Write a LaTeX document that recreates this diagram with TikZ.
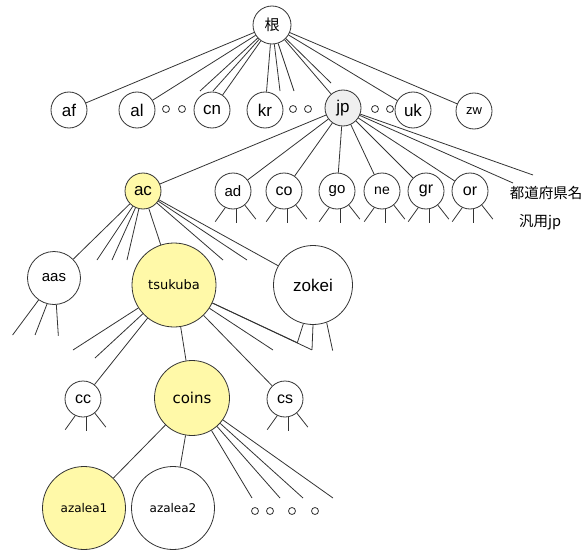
\documentclass[tikz,border=0pt]{standalone}
\usepackage{fontspec}
\setmainfont{Liberation Sans}
\newfontfamily\jpfont{Noto Sans CJK JP}
\newfontfamily\vfont{DejaVu Sans}
\definecolor{hlyellow}{HTML}{FFF9A8}
\definecolor{jpgray}{HTML}{EFEFEF}
\newcommand{\fs}[1]{\fontsize{#1}{#1}\selectfont}
% three short tails under a node
\newcommand{\tails}[1]{%
  \draw (#1.245) -- ++(-10,-14);
  \draw (#1.280) -- ++(0,-14);
  \draw (#1.310) -- ++(11,-14);}

\begin{document}
\begin{tikzpicture}[x=1pt,y=1pt,line width=0.8pt,color=black!80,
  nd/.style={circle,draw,text=black,minimum size=36pt,inner sep=0pt,font=\fs{17}},
  dot/.style={circle,draw,minimum size=7pt,inner sep=0pt},
  hl/.style={fill=hlyellow}]
\useasboundingbox (0,0) rectangle (584,-551);

% top level
\node[nd,minimum size=38pt,font=\jpfont\fs{15}] (root) at (272,-25) {根};
\node[nd] (af) at (69,-110) {af};
\node[nd] (al) at (137,-110) {al};
\node[nd] (cn) at (212,-110) {cn};
\node[nd] (kr) at (265,-110) {kr};
\node[nd,fill=jpgray] (jp) at (343,-108) {jp};
\node[nd] (uk) at (413,-110) {uk};
\node[nd,font=\fs{13}] (zw) at (474,-111) {zw};
\node[dot] (d1) at (166,-109) {};
\node[dot] (d2) at (182,-109) {};
\node[dot] (d3) at (293,-109) {};
\node[dot] (d4) at (308,-109) {};
\node[dot] (d5) at (375,-109) {};
\node[dot] (d6) at (390,-109) {};
\coordinate (rs1) at (200,-91);
\coordinate (rs2) at (213,-91);
\coordinate (rs3) at (280,-91);
\coordinate (rs4) at (294,-91);
\coordinate (rs5) at (331,-83);
\draw (root) -- (af);
\draw (root) -- (al);
\draw (root) -- (rs1);
\draw (root) -- (rs2);
\draw (root) -- (cn);
\draw (root) -- (kr);
\draw (root) -- (rs3);
\draw (root) -- (rs4);
\draw (root) -- (rs5);
\draw (root) -- (jp);
\draw (root) -- (uk);
\draw (root) -- (zw);

% under jp
\node[nd,hl] (ac) at (143,-191) {ac};
\node[nd,font=\fs{15}] (ad) at (233,-191) {ad};
\node[nd,font=\fs{16}] (co) at (284,-191) {co};
\node[nd,font=\fs{15}] (go) at (337,-191) {go};
\node[nd,font=\fs{14}] (ne) at (382,-191) {ne};
\node[nd,font=\fs{16}] (gr) at (426,-191) {gr};
\node[nd,font=\fs{16}] (or) at (470,-191) {or};
\node[font=\jpfont\fs{14.5},text=black] (pref) at (546,-193) {都道府県名};
\node[font=\jpfont\fs{14.5},text=black] (gen) at (540,-222) {汎用jp};
\coordinate (js1) at (533,-175);
\coordinate (js2) at (513,-183);
\foreach \n in {ac,ad,co,go,ne,gr,or} \draw (jp) -- (\n);
\draw (jp) -- (js1);
\draw (jp) -- (js2);
\tails{ad} \tails{co} \tails{go} \tails{ne} \tails{gr} \tails{or}

% under ac
\node[nd,minimum size=53pt,font=\fs{15}] (aas) at (54,-278) {aas};
\node[nd,hl,minimum size=84pt,font=\vfont\fs{13}] (tsukuba) at (174,-285) {tsukuba};
\node[nd,minimum size=79pt,font=\fs{17}] (zokei) at (313,-285) {zokei};
\coordinate (as1) at (97,-260);
\coordinate (as2) at (112,-260);
\coordinate (as3) at (127,-260);
\coordinate (as4) at (223,-260);
\coordinate (as5) at (247,-260);
\draw (ac) -- (aas);
\draw (ac) -- (as1);
\draw (ac) -- (as2);
\draw (ac) -- (as3);
\draw (ac) -- (tsukuba);
\draw (ac) -- (as4);
\draw (ac) -- (as5);
\draw (ac) -- (zokei);
\draw (aas.235) -- ++(-26,-35);
\draw (aas.255) -- ++(-12,-31);
\draw (aas.275) -- ++(2,-31);
\draw (zokei.256) -- ++(-6,-19) coordinate (zk1);
\draw (zokei.270) -- ++(-1,-25) coordinate (zk2);
\draw (zokei.290) -- ++(6,-28);

% under tsukuba
\node[nd,font=\fs{16}] (cc) at (83,-399) {cc};
\node[nd,hl,minimum size=75pt,font=\vfont\fs{15}] (coins) at (192,-398) {coins};
\node[nd,font=\fs{16}] (cs) at (285,-399) {cs};
\coordinate (ts1) at (73,-350);
\coordinate (ts2) at (95,-358);
\coordinate (ts3) at (273,-350);
\draw (tsukuba) -- (ts1);
\draw (tsukuba) -- (ts2);
\draw (tsukuba) -- (cc);
\draw (tsukuba) -- (coins);
\draw (tsukuba) -- (cs);
\draw (tsukuba) -- (ts3);
\draw (tsukuba) -- (zk1);
\draw (tsukuba) -- (zk2);
\tails{cc} \tails{cs}

% under coins
\node[nd,hl,minimum size=83pt,font=\vfont\fs{12}] (azalea1) at (84,-508) {azalea1};
\node[nd,minimum size=83pt,font=\vfont\fs{12}] (azalea2) at (173,-508) {azalea2};
\node[dot] (e1) at (255,-511) {};
\node[dot] (e2) at (270,-511) {};
\node[dot] (e3) at (292,-511) {};
\node[dot] (e4) at (315,-511) {};
\coordinate (cs1) at (252,-498);
\coordinate (cs2) at (280,-498);
\coordinate (cs3) at (303,-498);
\coordinate (cs4) at (333,-498);
\draw (coins) -- (azalea1);
\draw (coins) -- (azalea2);
\draw (coins) -- (cs1);
\draw (coins) -- (cs2);
\draw (coins) -- (cs3);
\draw (coins) -- (cs4);
\end{tikzpicture}
\end{document}
